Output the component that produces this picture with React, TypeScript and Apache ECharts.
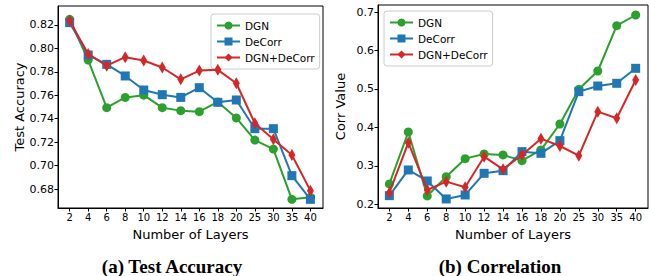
import React, { useEffect, useRef } from "react";
import * as echarts from "echarts";

const layers = ["2", "4", "6", "8", "10", "12", "14", "16", "18", "20", "25", "30", "35", "40"];
const seriesNames = ["DGN", "DeCorr", "DGN+DeCorr"];
const colors = ["#2ca02c", "#1f77b4", "#d62728"];

const accDGN = [0.8248, 0.7901, 0.7494, 0.7582, 0.7601, 0.7494, 0.7469, 0.746, 0.7543, 0.7407, 0.7218, 0.7141, 0.6712, 0.6729];
const accDeCorr = [0.822, 0.7944, 0.7864, 0.7765, 0.7645, 0.7605, 0.7582, 0.7665, 0.754, 0.756, 0.7315, 0.7315, 0.6914, 0.6712];
const accBoth = [0.8237, 0.7952, 0.7853, 0.7925, 0.7897, 0.7837, 0.7736, 0.7811, 0.7817, 0.7703, 0.7361, 0.7225, 0.709, 0.6786];

const corrDGN = [0.2529, 0.388, 0.2217, 0.2719, 0.3187, 0.3309, 0.3283, 0.3135, 0.3413, 0.4088, 0.499, 0.5466, 0.6645, 0.6922];
const corrDeCorr = [0.2225, 0.2893, 0.2607, 0.2139, 0.2243, 0.2806, 0.2875, 0.3369, 0.3326, 0.3655, 0.4929, 0.5076, 0.5146, 0.5536];
const corrBoth = [0.2303, 0.3603, 0.2373, 0.2589, 0.2442, 0.3239, 0.291, 0.3283, 0.3707, 0.3516, 0.3265, 0.4409, 0.4236, 0.5232];

const accTicks = [0.68, 0.7, 0.72, 0.74, 0.76, 0.78, 0.8, 0.82];
const corrTicks = [0.2, 0.3, 0.4, 0.5, 0.6, 0.7];

const captionA = "(a) Test Accuracy";
const captionB = "(b) Correlation";

const FONT = "DejaVu Sans";

export default function App() {
  const ref = useRef<HTMLDivElement>(null);
  useEffect(() => {
    if (!ref.current) return;
    const chart = echarts.init(ref.current, null, { renderer: "svg" });
    const idx = layers.map((_, i) => i);
    const xAxisBase = (gridIndex: number, min: number, max: number) => ({
      type: "value",
      gridIndex,
      min,
      max,
      name: "Number of Layers",
      nameLocation: "middle",
      nameGap: 20,
      nameTextStyle: { fontFamily: FONT, fontSize: 13, color: "#000" },
      axisLine: { show: true, onZero: false, lineStyle: { color: "#000", width: 1 } },
      axisTick: { show: true, length: 3.5, customValues: idx, lineStyle: { color: "#000" } },
      axisLabel: {
        customValues: idx,
        formatter: (v: number) => layers[Math.round(v)] ?? "",
        fontFamily: FONT,
        fontSize: 10,
        color: "#000",
        margin: 4,
      },
      splitLine: { show: false },
    });
    const yAxisBase = (gridIndex: number, min: number, max: number, ticks: number[], dec: number, name: string) => ({
      type: "value",
      gridIndex,
      min,
      max,
      name,
      nameLocation: "middle",
      nameGap: 31,
      nameTextStyle: { fontFamily: FONT, fontSize: 13, color: "#000" },
      axisLine: { show: true, onZero: false, lineStyle: { color: "#000", width: 1 } },
      axisTick: { show: true, length: 3.5, customValues: ticks, lineStyle: { color: "#000" } },
      axisLabel: {
        customValues: ticks,
        formatter: (v: number) => v.toFixed(dec),
        fontFamily: FONT,
        fontSize: 11,
        color: "#000",
        margin: 4,
      },
      splitLine: { show: false },
    });
    const mk = (name: string, vals: number[], k: number, gi: number) => ({
      type: "line",
      name,
      xAxisIndex: gi,
      yAxisIndex: gi,
      data: vals.map((v, i) => [i, v]),
      symbol: k === 0 ? "circle" : k === 1 ? "rect" : "diamond",
      symbolSize: k === 0 ? 9 : k === 1 ? 9 : [7, 12],
      showSymbol: true,
      lineStyle: { color: colors[k], width: 2 },
      itemStyle: { color: colors[k] },
      z: 2 + k,
    });
    const legendBase = (left: number, top: number) => ({
      orient: "vertical",
      left,
      top,
      data: seriesNames,
      backgroundColor: "#fff",
      borderColor: "#cccccc",
      borderWidth: 1,
      borderRadius: 3,
      padding: [6, 5, 6, 5],
      itemWidth: 23,
      itemHeight: 10,
      itemGap: 5,
      textStyle: { fontFamily: FONT, fontSize: 10.5, color: "#000", padding: [0, 0, 0, 0] },
    });
    chart.setOption({
      animation: false,
      grid: [
        { left: 58, top: 6, width: 265, height: 202, show: true, borderColor: "#000", borderWidth: 1, backgroundColor: "transparent" },
        { left: 378, top: 5, width: 270, height: 203, show: true, borderColor: "#000", borderWidth: 1, backgroundColor: "transparent" },
      ],
      xAxis: [xAxisBase(0, -0.63, 13.68), xAxisBase(1, -0.6, 13.65)],
      yAxis: [
        yAxisBase(0, 0.6638, 0.8362, accTicks, 2, "Test Accuracy"),
        yAxisBase(1, 0.1904, 0.7182, corrTicks, 1, "Corr Value"),
      ],
      legend: [legendBase(211, 14), legendBase(384, 11)],
      series: [
        mk("DGN", accDGN, 0, 0),
        mk("DeCorr", accDeCorr, 1, 0),
        mk("DGN+DeCorr", accBoth, 2, 0),
        mk("DGN", corrDGN, 0, 1),
        mk("DeCorr", corrDeCorr, 1, 1),
        mk("DGN+DeCorr", corrBoth, 2, 1),
      ],
      graphic: [
        {
          type: "text",
          x: 172,
          y: 266,
          style: { text: captionA, fontFamily: "Liberation Serif", fontWeight: "bold", fontSize: 19, fill: "#000", textAlign: "center", textVerticalAlign: "middle" },
        },
        {
          type: "text",
          x: 500,
          y: 266,
          style: { text: captionB, fontFamily: "Liberation Serif", fontWeight: "bold", fontSize: 19, fill: "#000", textAlign: "center", textVerticalAlign: "middle" },
        },
      ],
    });
    return () => chart.dispose();
  }, []);
  return (
    <div
      ref={ref}
      style={{ position: "absolute", left: 0, top: 0, width: 649, height: 276, background: "#fff" }}
    />
  );
}
